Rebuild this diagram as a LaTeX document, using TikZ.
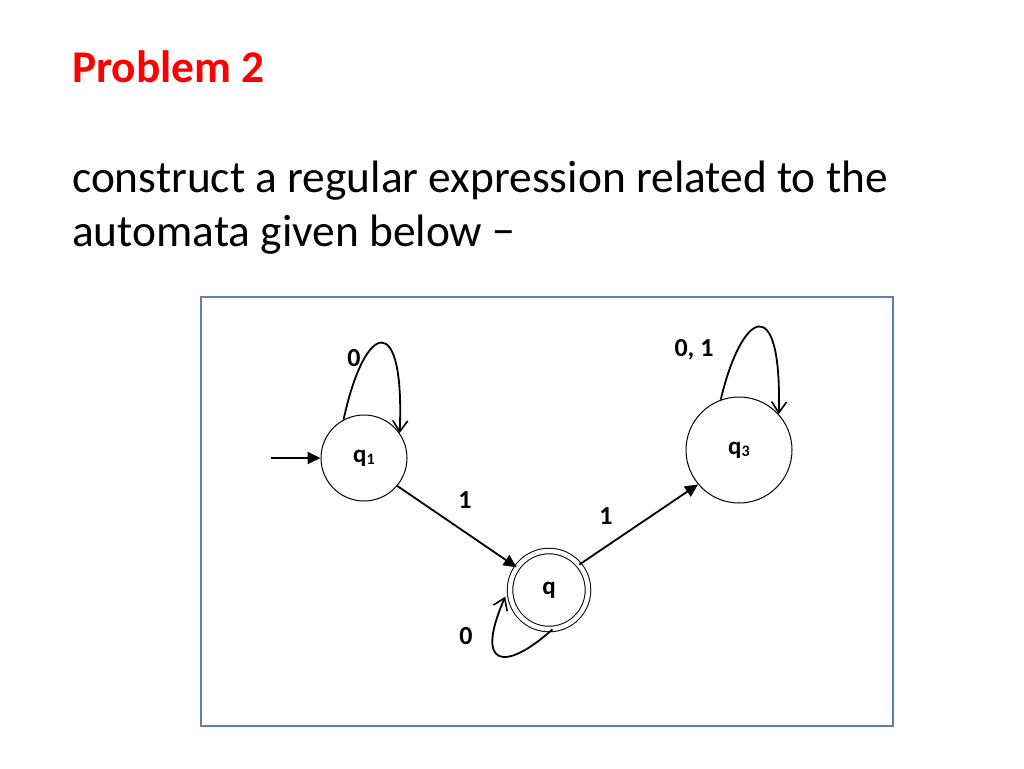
\documentclass[tikz,border=0pt]{standalone}
\usepackage{fontspec}
\setmainfont{Carlito}
\usetikzlibrary{arrows.meta}
\definecolor{titlered}{RGB}{255,0,0}
\definecolor{framecol}{RGB}{95,125,185}
\tikzset{
  state/.style={draw, circle, line width=1pt, inner sep=0pt, font=\bfseries\fontsize{25}{28}\selectfont},
  edgelbl/.style={font=\bfseries\fontsize{26}{28}\selectfont, inner sep=0pt},
  trans/.style={line width=1.8pt, -{Triangle[length=13pt,width=12pt]}},
  loopedge/.style={line width=1.8pt, -{Straight Barb[length=11pt,width=15pt,line width=1.6pt]}},
  slidetext/.style={anchor=base west, inner sep=0pt, font=\fontsize{45.4}{54}\selectfont}
}
\newcommand{\sublbl}[1]{\raisebox{-2pt}{\fontsize{16}{18}\selectfont #1}}
\begin{document}
\begin{tikzpicture}[x=1pt,y=-1pt]
\useasboundingbox (0,0) rectangle (1024,768);
\fill[white] (0,0) rectangle (1024,768);
% slide text
\node[slidetext, text=titlered, font=\bfseries\fontsize{45.4}{54}\selectfont] (title) at (72,82) {Problem 2};
\node[slidetext] (line1) at (72,192) {construct a regular expression related to the};
\node[slidetext] (line2) at (72,246) {automata given below −};
% frame
\draw[framecol, line width=2.4pt] (201,297) rectangle (893,726);
% states
\node[state, minimum size=86pt] (q1) at (364,458) {q\sublbl{1}};
\node[state, minimum size=78pt, double, double distance=4.5pt] (q) at (549,590) {q};
\node[state, minimum size=106pt] (q3) at (739,450) {q\sublbl{3}};
\coordinate (start) at (271,458);
% transitions
\draw[trans] (start) -- (q1.west);
\draw[trans] (q1.-40) -- (q.145);
\draw[trans] (q.40) -- (q3.-140);
\node[edgelbl] (l1) at (465,500) {1};
\node[edgelbl] (l2) at (606,516) {1};
% loops
\draw[loopedge] (q1.118) .. controls (365,320) and (405,310) .. (q1.35);
\node[edgelbl] (l0a) at (354,358) {0};
\draw[loopedge] (q3.110) .. controls (742,310) and (782,290) .. (q3.42);
\node[edgelbl] (l01) at (694,350) {0, 1};
\draw[loopedge, shorten >=11pt] (q.-85) .. controls (505,672) and (474,668) .. (q.175);
\node[edgelbl] (l0b) at (466,636) {0};
\end{tikzpicture}
\end{document}
